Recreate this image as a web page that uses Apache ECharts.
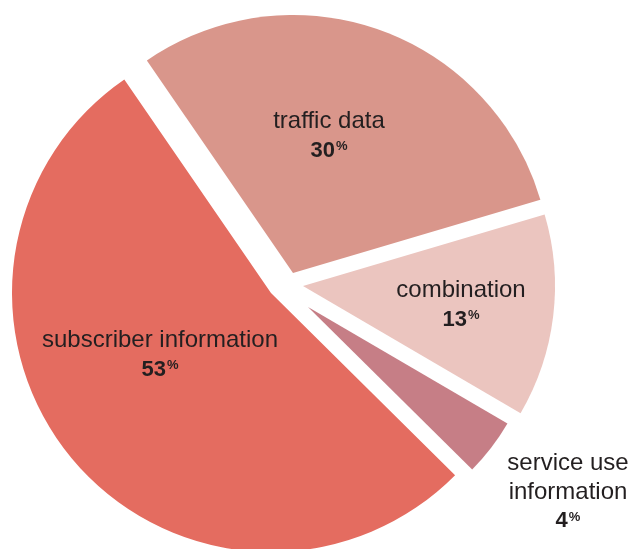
<!DOCTYPE html>
<html>
<head>
<meta charset="utf-8">
<script src="https://cdn.jsdelivr.net/npm/echarts@6/dist/echarts.min.js"></script>
<style>
  html, body { margin: 0; padding: 0; background: #fff; }
  #chart { width: 632px; height: 549px; }
</style>
</head>
<body>
<div id="chart"></div>
<script>
// data, clockwise from the top-left edge of "traffic data"
var categories = ['traffic data', 'combination', 'service use information', 'subscriber information'];
var shares = [30, 13, 4, 53];

// look
var colors = ['#D9968B', '#EBC5BF', '#C67E86', '#E46C60'];
var textColor = '#231F20';
var font = '"Liberation Sans", Arial, sans-serif';

// every slice is pulled out by its own amount, so each one is its own pie series
var sliceCenters = [[293, 273], [303, 286], [308, 307], [271, 293]];
var sliceRadii = [258, 252, 231, 259];
var labelSpots = [[329, 136], [461, 305], [568, 492], [160, 355]];

var chart = echarts.init(document.getElementById('chart'));

function labelText(name, value) {
    // long name of the small slice goes on two lines outside the pie
    var shown = name === 'service use information' ? 'service use\ninformation' : name;
    return '{name|' + shown + '}\n{num|' + value + '}{pct|%}';
}

var series = [];
for (var i = 0; i < categories.length; i++) {
    var data = [];
    for (var j = 0; j < categories.length; j++) {
        data.push({
            name: categories[j],
            value: shares[j],
            itemStyle: { color: j === i ? colors[j] : 'rgba(0,0,0,0)' },
            label: { show: j === i }
        });
    }
    series.push({
        type: 'pie',
        center: sliceCenters[i],
        radius: [0, sliceRadii[i]],
        startAngle: 124.5,
        clockwise: true,
        silent: true,
        animation: false,
        avoidLabelOverlap: false,
        itemStyle: { borderWidth: 0 },
        emphasis: { disabled: true },
        labelLine: { show: false },
        label: {
            position: 'inside',
            align: 'center',
            verticalAlign: 'middle',
            color: textColor,
            fontFamily: font,
            formatter: function (p) { return labelText(p.name, p.value); },
            rich: {
                name: { fontSize: 24, lineHeight: 29, color: textColor, fontFamily: font },
                num: { fontSize: 22, fontWeight: 'bold', lineHeight: 29, color: textColor, fontFamily: font },
                pct: { fontSize: 13, fontWeight: 'bold', lineHeight: 13, verticalAlign: 'top', padding: [4, 0, 0, 1], color: textColor, fontFamily: font }
            }
        },
        labelLayout: { x: labelSpots[i][0], y: labelSpots[i][1] },
        data: data
    });
}

chart.setOption({
    backgroundColor: '#ffffff',
    tooltip: { show: false },
    legend: { show: false },
    series: series
});
</script>
</body>
</html>
